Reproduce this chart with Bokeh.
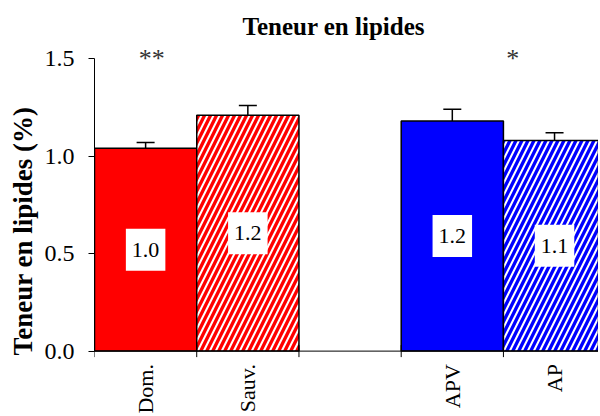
import math
from bokeh.plotting import figure
from bokeh.models import (ColumnDataSource, Range1d, FixedTicker, Whisker, TeeHead,
                          Span, NumeralTickFormatter)
from bokeh.core.properties import value
from bokeh.embed import file_html
from bokeh.resources import INLINE

# ---- data ----
categories = ["Dom.", "Sauv.", "APV", "AP"]
slots = [0, 1, 3, 4]                      # slot 2 is an empty gap between the two groups
means = [1.04, 1.21, 1.18, 1.08]
errors = [0.03, 0.05, 0.06, 0.04]
fill_colors = ["#ff0000", "#ffffff", "#0000ff", "#ffffff"]
hatch_patterns = [" ", "/", " ", "/"]
hatch_colors = ["#ff0000", "#ff0000", "#0000ff", "#0000ff"]
sig_labels = ["**", "*"]
sig_x = [0.56, 4.09]
y_ticks = [0.0, 0.5, 1.0, 1.5]

centers = [s + 0.5 for s in slots]
boundaries = list(range(0, max(slots) + 2))
src = ColumnDataSource(dict(
    x=centers, mean=means, upper=[m + e for m, e in zip(means, errors)],
    fill=fill_colors, hatch=hatch_patterns, hcolor=hatch_colors,
    label=[f"{m:.1f}" for m in means], label_y=[m / 2 for m in means],
    cat=categories, zero=[y_ticks[0]] * len(categories),
))
sig_src = ColumnDataSource(dict(x=sig_x, y=[y_ticks[-1]] * len(sig_x), text=sig_labels))
tick_src = ColumnDataSource(dict(x=boundaries, y=[y_ticks[0]] * len(boundaries)))

SERIF = "Liberation Serif"

# the frame reaches down to the bottom of the picture so the category names
# (drawn below y = 0) stay inside it
p = figure(frame_width=504, frame_height=367,
           x_range=Range1d(0, 4.93), y_range=Range1d(-0.325, 1.557),
           output_backend="svg", toolbar_location=None,
           min_border_left=94, min_border_right=0, min_border_top=47, min_border_bottom=0,
           title="Teneur en lipides")
p.outline_line_color = None
p.xgrid.visible = False
p.ygrid.visible = False
p.xaxis.visible = False

p.title.align = "left"
p.title.offset = 148
p.title.text_font = SERIF
p.title.text_font_style = "bold"
p.title.text_font_size = "25px"
p.title.text_color = "black"
p.title.standoff = 16

# bars
p.vbar(x="x", top="mean", bottom=0, width=1.0, source=src,
       fill_color="fill", hatch_pattern="hatch", hatch_color="hcolor",
       hatch_scale=12, hatch_weight=3.3,
       line_color="black", line_width=1.5)

# error bars (upper only)
p.add_layout(Whisker(source=src, base="x", upper="upper", lower="mean",
                     upper_head=TeeHead(size=18, line_width=1.5, line_color="black"),
                     lower_head=None, line_width=1.5, line_color="black"))

# category axis: line at y = 0, tick marks at slot boundaries, names below
p.add_layout(Span(location=y_ticks[0], dimension="width", line_color="black", line_width=1))
p.scatter(x="x", y="y", source=tick_src, marker="dash", angle=math.pi / 2, size=12,
          line_color="black", line_width=1)
p.text(x="x", y="zero", text="cat", source=src, angle=math.pi / 2, y_offset=13,
       text_align="right", text_baseline="middle",
       text_font=value(SERIF), text_font_size=value("22px"), text_color="black")

# value labels in white boxes
p.text(x="x", y="label_y", text="label", source=src,
       text_align="center", text_baseline="middle",
       text_font=value(SERIF), text_font_size=value("22px"), text_color="black",
       background_fill_color="white", padding=dict(x=6, y=14))

# significance stars
p.text(x="x", y="y", text="text", source=sig_src,
       text_align="center", text_baseline="middle",
       text_font=value(SERIF), text_font_size=value("26px"), text_color="#333333")

# y axis
yax = p.yaxis[0]
yax.ticker = FixedTicker(ticks=y_ticks)
yax.formatter = NumeralTickFormatter(format="0.0")
yax.bounds = (y_ticks[0], y_ticks[-1])
yax.major_label_text_font = SERIF
yax.major_label_text_font_size = "24px"
yax.major_label_text_color = "black"
yax.major_label_standoff = 14
yax.major_tick_out = 6
yax.major_tick_in = 0
yax.minor_tick_out = 0
yax.minor_tick_in = 0
yax.axis_line_color = "black"
yax.major_tick_line_color = "black"
yax.axis_label = "Teneur en lipides (%)"
yax.axis_label_text_font = SERIF
yax.axis_label_text_font_style = "bold"
yax.axis_label_text_font_size = "27px"
yax.axis_label_text_color = "black"
yax.axis_label_standoff = 4

open("out.html", "w").write(file_html(p, INLINE))
